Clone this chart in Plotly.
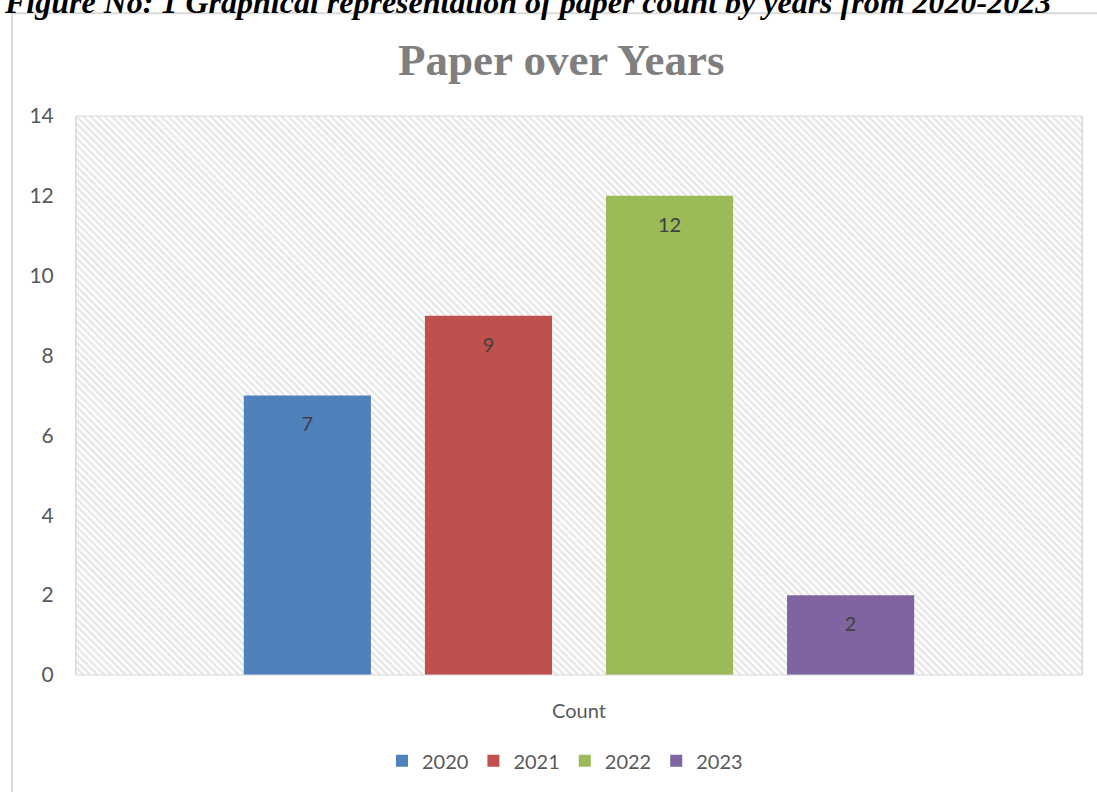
import plotly.graph_objects as go

categories = ["Count"]
years = ["2020", "2021", "2022", "2023"]
counts = [7, 9, 12, 2]
colors = ["#4f81bd", "#c0504d", "#9bbb59", "#8064a2"]
y_ticks = [0, 2, 4, 6, 8, 10, 12, 14]

fig = go.Figure()

# hatched plot-area background on a hidden numeric axis underneath
fig.add_trace(go.Bar(
    x=[0.5], y=[max(y_ticks)], width=[1], xaxis="x", yaxis="y",
    marker=dict(color="rgba(0,0,0,0)", line=dict(width=0),
                pattern=dict(shape="\\", fgcolor="#cfcfcf", bgcolor="white",
                             size=5, solidity=0.5)),
    showlegend=False, hoverinfo="skip",
))

for yr, c, col in zip(years, counts, colors):
    fig.add_trace(go.Bar(
        x=categories, y=[c], name=yr, xaxis="x2", yaxis="y",
        marker=dict(color=col, line=dict(width=0)),
    ))

# data labels, grouped like the bars, on an overlay y axis that is offset
# slightly so that the labels sit just inside the top of each bar
for yr, c in zip(years, counts):
    fig.add_trace(go.Scatter(
        x=categories, y=[c], mode="text", text=[str(c)],
        textposition="middle center", xaxis="x3", yaxis="y2",
        textfont=dict(family="Lato", size=20, color="#404040"),
        showlegend=False, hoverinfo="skip",
    ))

W, H = 1097, 792
L, R, T, B = 76, 15, 116, 115
pw, ph = W - L - R, H - T - B
label_drop = 31 / (ph / 14)  # label centre ~28px below bar top

def px_x(p):
    return (p - L) / pw

def px_y(p):
    return (H - B - p) / ph

fig.update_layout(
    width=W, height=H,
    margin=dict(l=L, r=R, t=T, b=B),
    paper_bgcolor="white", plot_bgcolor="white",
    barmode="group", bargap=0.28, bargroupgap=0.298,
    scattermode="group", scattergap=0.28,
    font=dict(family="Lato", size=20, color="#595959"),
    xaxis=dict(range=[0, 1], visible=False, fixedrange=True),
    xaxis2=dict(overlaying="x", side="bottom", showgrid=False,
                showline=False, ticks="", tickfont=dict(size=20, color="#595959"),
                ticklabelstandoff=22),
    xaxis3=dict(overlaying="x", matches="x2", visible=False),
    yaxis=dict(range=[0, 14], tickvals=y_ticks, showgrid=True,
               gridcolor="#d9d9d9", gridwidth=1, zeroline=False,
               showline=True, mirror=True, linecolor="#d9d9d9", linewidth=1,
               ticks="", tickfont=dict(size=21, color="#595959"),
               ticklabelstandoff=17),
    yaxis2=dict(overlaying="y", range=[label_drop, 14 + label_drop], visible=False),
    legend=dict(orientation="h", x=px_x(565), xanchor="center",
                y=px_y(763), yanchor="middle",
                font=dict(size=20, color="#595959"),
                itemwidth=30, tracegroupgap=0, traceorder="normal"),
    showlegend=True,
)

# plot-area border
fig.add_shape(type="rect", xref="paper", yref="paper", x0=0, x1=1, y0=0, y1=1,
              line=dict(color="#d9d9d9", width=1), layer="above")
# chart frame
fig.add_shape(type="rect", xref="paper", yref="paper",
              x0=px_x(12), x1=px_x(1110), y0=px_y(810), y1=px_y(13),
              line=dict(color="#d9d9d9", width=2))

fig.add_annotation(text="<b>Paper over Years</b>", xref="paper", yref="paper",
                   x=px_x(561.5), y=px_y(60), xanchor="center", yanchor="middle",
                   showarrow=False,
                   font=dict(family="Liberation Serif", size=45, color="#7f7f7f"))

fig.add_annotation(text="<b><i>Figure No: 1 Graphical representation of paper count by years from 2020-2023</i></b>",
                   xref="paper", yref="paper", x=px_x(2), y=px_y(22),
                   xanchor="left", yanchor="bottom", showarrow=False,
                   font=dict(family="Liberation Serif", size=32, color="black"))

fig.write_html("out.html", config={"displayModeBar": False},
               post_script="document.body.style.margin='0';document.body.style.overflow='hidden';")
